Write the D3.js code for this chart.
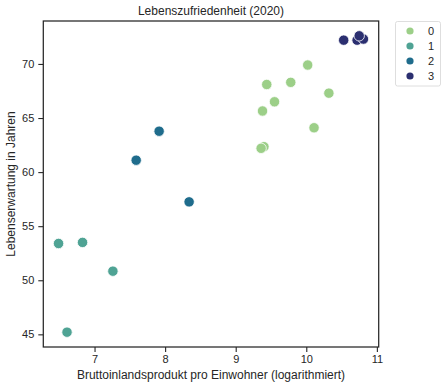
<!DOCTYPE html>
<html>
<head>
<meta charset="utf-8">
<script src="https://cdn.jsdelivr.net/npm/d3@7"></script>
<style>
  body { margin: 0; background: #fff; }
  text { font-family: "Liberation Sans", Arial, sans-serif; fill: #262626; }
</style>
</head>
<body>
<div id="chart"></div>
<script>
// cluster labels and colours (crest palette)
var clusters = ['0', '1', '2', '3'];
var colors = ['#9ccf88', '#4fa394', '#1f6c8c', '#2b2f70'];

// log GDP per capita and life expectancy, per cluster
var gdp0 = [10.02, 9.44, 9.78, 10.32, 9.55, 9.38, 10.11, 9.40, 9.36];
var life0 = [69.9, 68.1, 68.3, 67.3, 66.5, 65.65, 64.1, 62.35, 62.2];
var gdp1 = [6.49, 6.83, 7.26, 6.61];
var life1 = [53.4, 53.5, 50.84, 45.2];
var gdp2 = [7.915, 7.59, 8.34];
var life2 = [63.78, 61.1, 57.25];
var gdp3 = [10.53, 10.72, 10.81, 10.75];
var life3 = [72.2, 72.2, 72.3, 72.6];

var xTicks = [7, 8, 9, 10, 11];
var yTicks = [45, 50, 55, 60, 65, 70];

var gdpAll = [gdp0, gdp1, gdp2, gdp3];
var lifeAll = [life0, life1, life2, life3];
var points = [];
gdpAll.forEach(function(xs, c) {
  xs.forEach(function(x, i) {
    points.push({x: x, y: lifeAll[c][i], c: c});
  });
});

var width = 447, height = 388;
var plotLeft = 43.3, plotRight = 378.7, plotTop = 21, plotBottom = 347;

var svg = d3.select('#chart').append('svg')
  .attr('width', width).attr('height', height);

// 5% margins around the data like seaborn
function padded(vals) {
  var ext = d3.extent(vals);
  var pad = (ext[1] - ext[0]) * 0.05;
  return [ext[0] - pad, ext[1] + pad];
}
var x = d3.scaleLinear().domain(padded(points.map(function(d) { return d.x; }))).range([plotLeft, plotRight]);
var y = d3.scaleLinear().domain(padded(points.map(function(d) { return d.y; }))).range([plotBottom, plotTop]);

var xAxis = svg.append('g')
  .attr('transform', 'translate(0,' + plotBottom + ')')
  .call(d3.axisBottom(x).tickValues(xTicks).tickFormat(d3.format('d')).tickSize(5).tickPadding(3).tickSizeOuter(0));
var yAxis = svg.append('g')
  .attr('transform', 'translate(' + plotLeft + ',0)')
  .call(d3.axisLeft(y).tickValues(yTicks).tickFormat(d3.format('d')).tickSize(5).tickPadding(4).tickSizeOuter(0));
[xAxis, yAxis].forEach(function(a) {
  a.select('.domain').remove();
  a.selectAll('line').attr('stroke', '#262626').attr('stroke-width', 1.1);
  a.selectAll('text').style('font-size', '11px').attr('fill', '#262626');
});

// frame
svg.append('rect')
  .attr('x', plotLeft).attr('y', plotTop)
  .attr('width', plotRight - plotLeft).attr('height', plotBottom - plotTop)
  .attr('fill', 'none').attr('stroke', '#262626').attr('stroke-width', 1.25);

svg.append('g').selectAll('circle')
  .data(points)
  .enter()
  .append('circle')
  .attr('cx', function(d) { return x(d.x); })
  .attr('cy', function(d) { return y(d.y); })
  .attr('r', 5.2)
  .attr('fill', function(d) { return colors[d.c]; })
  .attr('stroke', '#fff')
  .attr('stroke-width', 0.8);

svg.append('text')
  .attr('x', (plotLeft + plotRight) / 2).attr('y', 15)
  .attr('text-anchor', 'middle').style('font-size', '12px')
  .text('Lebenszufriedenheit (2020)');

svg.append('text')
  .attr('x', (plotLeft + plotRight) / 2).attr('y', 379)
  .attr('text-anchor', 'middle').style('font-size', '12px')
  .text('Bruttoinlandsprodukt pro Einwohner (logarithmiert)');

svg.append('text')
  .attr('transform', 'translate(15,' + ((plotTop + plotBottom) / 2) + ') rotate(-90)')
  .attr('text-anchor', 'middle').style('font-size', '12px')
  .text('Lebenserwartung in Jahren');

// legend
var legend = svg.append('g');
legend.append('rect')
  .attr('x', 395.5).attr('y', 21.5).attr('width', 45).attr('height', 64.5)
  .attr('rx', 2).attr('fill', '#fff').attr('stroke', '#d6d6d6').attr('stroke-width', 0.8);
var rows = legend.selectAll('g.row')
  .data(clusters)
  .enter()
  .append('g')
  .attr('transform', function(d, i) { return 'translate(0,' + (31 + i * 15) + ')'; });
rows.append('circle')
  .attr('cx', 410).attr('cy', 0).attr('r', 3.6)
  .attr('fill', function(d, i) { return colors[i]; });
rows.append('text')
  .attr('x', 428).attr('y', 4)
  .style('font-size', '11px')
  .text(function(d) { return d; });
</script>
</body>
</html>
